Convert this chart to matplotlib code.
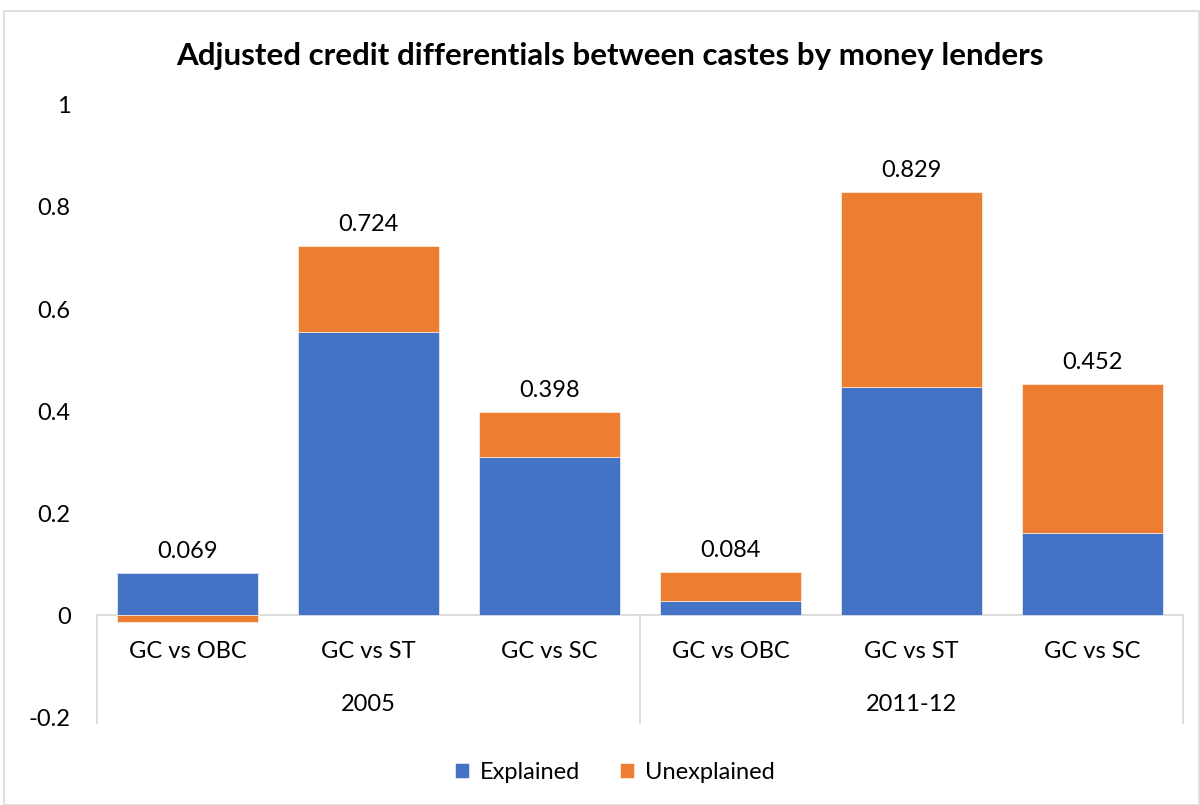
import matplotlib.pyplot as plt
from matplotlib.patches import Rectangle

plt.rcParams['font.family'] = ['Lato', 'DejaVu Sans']

# data
categories = ["GC vs OBC", "GC vs ST", "GC vs SC", "GC vs OBC", "GC vs ST", "GC vs SC"]
groups = ["2005", "2011-12"]
explained = [0.082, 0.555, 0.310, 0.027, 0.447, 0.161]
unexplained = [-0.013, 0.169, 0.088, 0.057, 0.382, 0.291]
totals = [0.069, 0.724, 0.398, 0.084, 0.829, 0.452]

blue = "#4472C4"
orange = "#ED7D31"
grid_col = "#D9D9D9"
fs = 17

fig = plt.figure(figsize=(12, 8.05), dpi=100)
ax = fig.add_axes([97 / 1200, 88 / 805, (1183 - 97) / 1200, (717 - 105) / 805])

x = list(range(len(categories)))
w = 0.775
ax.bar(x, explained, w, color=blue, label="Explained", edgecolor="white", linewidth=0.4)
# negative unexplained goes below zero, positive stacks on explained
bottoms = [e if u >= 0 else 0 for e, u in zip(explained, unexplained)]
ax.bar(x, unexplained, w, bottom=bottoms, color=orange, label="Unexplained",
       edgecolor="white", linewidth=0.4)

for xi, e, u, t in zip(x, explained, unexplained, totals):
    top = e + max(u, 0)
    ax.annotate(f"{t:.3f}", (xi, top), xytext=(0, 8), textcoords="offset points",
                ha="center", va="bottom", fontsize=fs)

ax.set_xlim(-0.5, len(categories) - 0.5)
ax.set_ylim(-0.2, 1)
ax.set_yticks([-0.2, 0, 0.2, 0.4, 0.6, 0.8, 1])
ax.set_yticklabels(["-0.2", "0", "0.2", "0.4", "0.6", "0.8", "1"])
ax.tick_params(axis="y", length=0, pad=19, labelsize=fs)
ax.set_xticks([])
for s in ax.spines.values():
    s.set_visible(False)

# category axis with group separators
ax.axhline(0, color=grid_col, linewidth=1.3, zorder=0)
for xs in [-0.5, 2.5, 5.5]:
    ax.plot([xs, xs], [0, -0.212], color=grid_col, linewidth=1.3, clip_on=False)
for xi, c in zip(x, categories):
    ax.text(xi, -0.0725, c, ha="center", va="center", fontsize=fs)
for gi, g in enumerate(groups):
    ax.text(1 + 3 * gi, -0.176, g, ha="center", va="center", fontsize=fs)

fig.text(610 / 1200, 1 - 56 / 805, "Adjusted credit differentials between castes by money lenders",
         ha="center", va="center", fontsize=22.5, fontweight="bold")

ax.legend(loc="center", bbox_to_anchor=(615 / 1200, (805 - 772) / 805), bbox_transform=fig.transFigure,
          ncol=2, frameon=False, fontsize=fs, handlelength=0.6, handleheight=0.6,
          handletextpad=0.45, columnspacing=1.7)

fig.patches.append(Rectangle((4 / 1200, 0.5 / 805), 1195 / 1200, 793 / 805, transform=fig.transFigure,
                             fill=False, edgecolor=grid_col, linewidth=1.2))

fig.savefig("out.png", dpi=100)
